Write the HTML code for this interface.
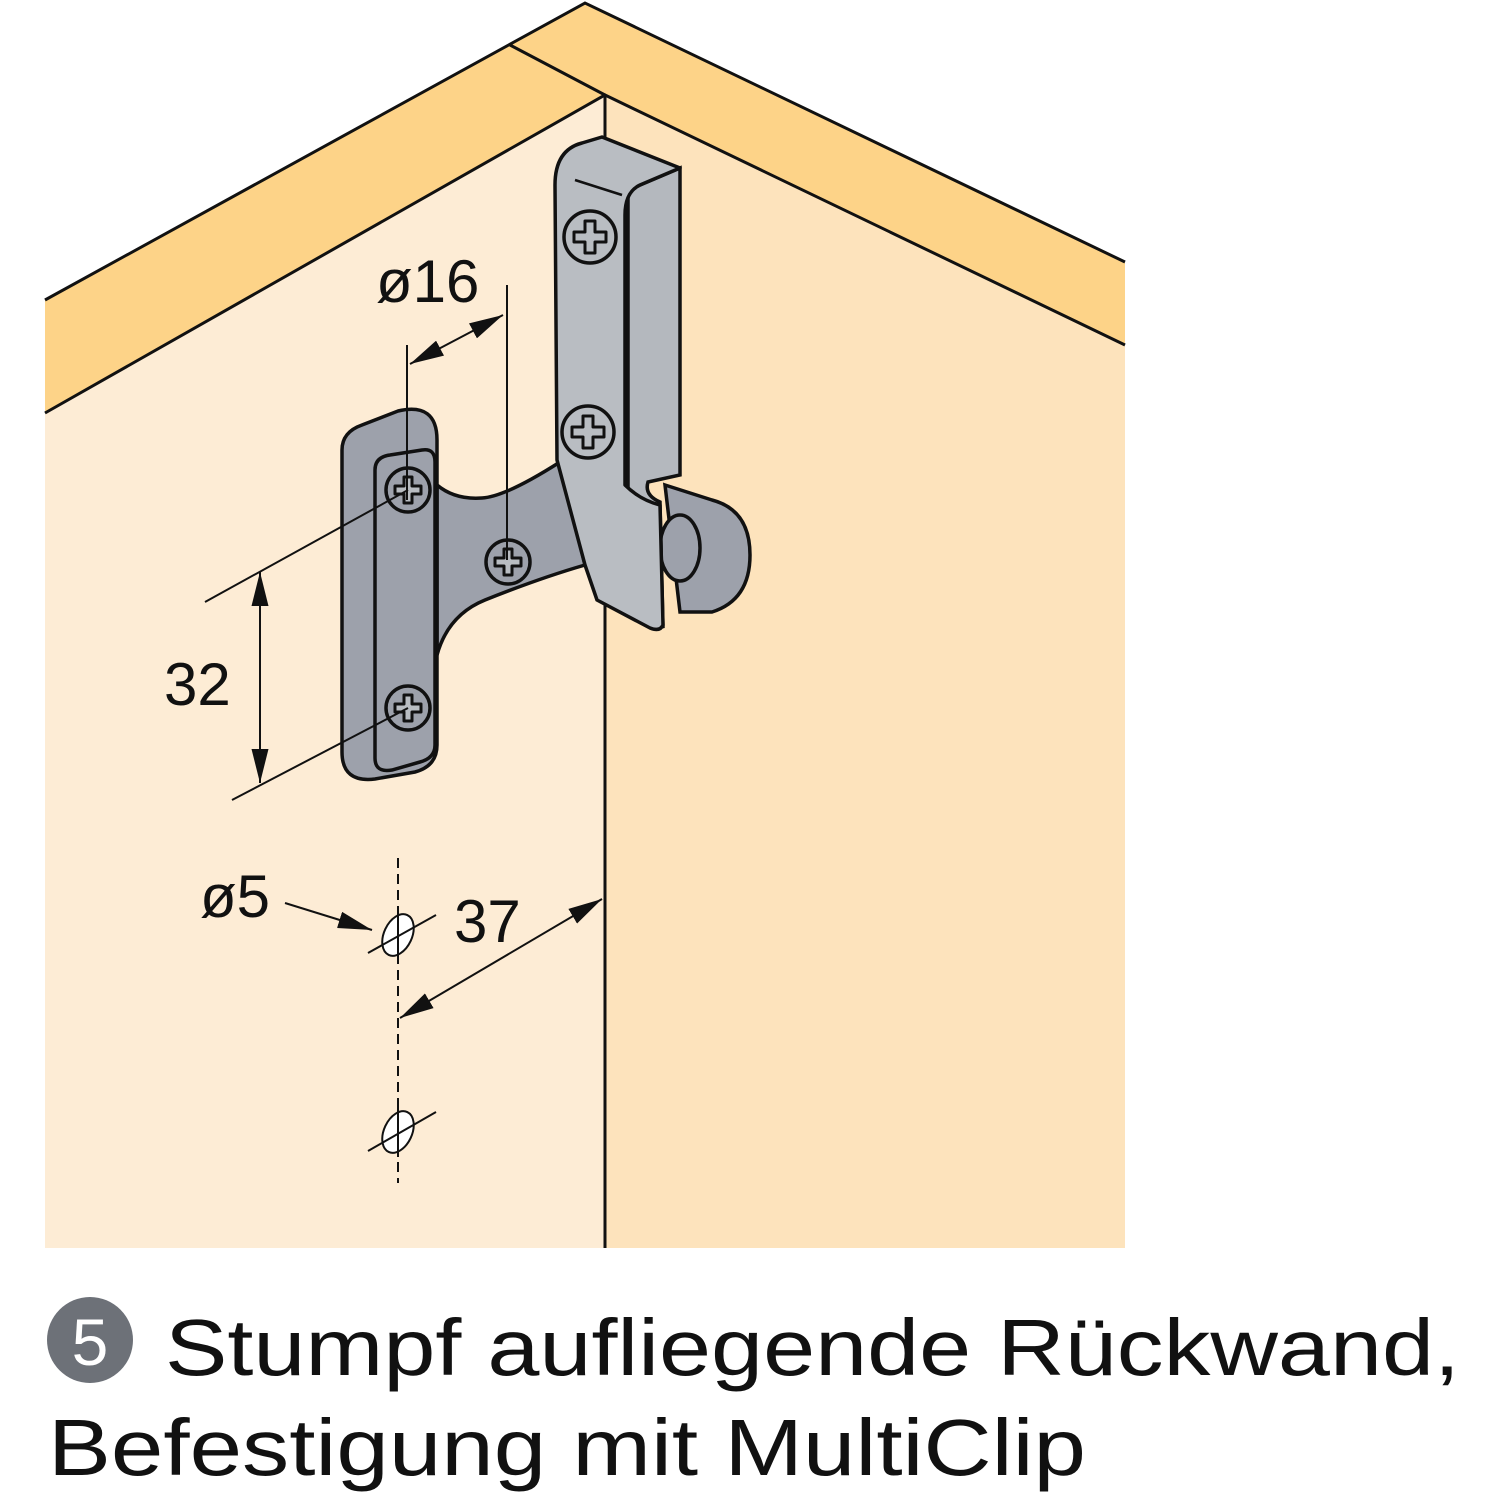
<!DOCTYPE html>
<html><head><meta charset="utf-8"><style>html,body{margin:0;padding:0;background:#fff}svg{display:block}</style></head>
<body>
<svg width="1500" height="1500" viewBox="0 0 1500 1500" xmlns="http://www.w3.org/2000/svg" font-family="Liberation Sans, Arial, sans-serif">
<defs>
<marker id="ab" viewBox="0 0 24 12" refX="24" refY="6" markerWidth="34" markerHeight="17" markerUnits="userSpaceOnUse" orient="auto-start-reverse"><path d="M0,0 L24,6 L0,12 Z" fill="#111"/></marker>
<g id="scr"><circle r="22" fill="#9da1ab" stroke="#111" stroke-width="3.5"/><path d="M-4,-13 H4 V-4 H13 V4 H4 V13 H-4 V4 H-13 V-4 H-4 Z" fill="#b9bdc2" stroke="#111" stroke-width="3" stroke-linejoin="round"/></g>
<g id="scrL"><circle r="26" fill="#b9bdc2" stroke="#111" stroke-width="3.5"/><path d="M-5,-16 H5 V-5 H16 V5 H5 V16 H-5 V5 H-16 V-5 H-5 Z" fill="#b9bdc2" stroke="#111" stroke-width="3" stroke-linejoin="round"/></g>
</defs>
<polygon points="45,413 605,95 605,1248 45,1248" fill="#fdecd5"/>
<polygon points="605,95 1125,345 1125,1248 605,1248" fill="#fde3bc"/>
<polygon points="45,300 510,45 605,95 45,413" fill="#fdd388"/>
<polygon points="510,45 585,3 1125,262 1125,345 605,95" fill="#fdd388"/>
<g stroke="#111" stroke-width="3" fill="none">
<polyline points="45,300 585,3 1125,262"/>
<polyline points="45,413 605,95 1125,345"/>
<line x1="510" y1="45" x2="605" y2="95"/>
<line x1="605" y1="95" x2="605" y2="1248"/>
</g>
<path d="M665,485 L712,500 Q750,510 750,555 Q750,600 712,612 L680,612 Z" fill="#9da1ab" stroke="#111" stroke-width="3.5"/>
<ellipse cx="680" cy="548" rx="20" ry="33" fill="#9da1ab" stroke="#111" stroke-width="3.5"/>
<path d="M437,485 Q455,500 482,498 Q505,497 560,462 L585,565 Q540,578 485,600 Q448,615 437,655 Z" fill="#9da1ab" stroke="#111" stroke-width="3.5"/>
<path d="M342,450 Q342,432 362,425 L398,411 Q437,402 437,440 L437,745 Q437,766 415,772 L375,779 Q342,783 342,752 Z" fill="#9da1ab" stroke="#111" stroke-width="3.5"/>
<path d="M375,470 Q375,457 390,455 L422,450 Q435,448 435,462 L435,745 Q435,758 420,762 L392,770 Q375,773 375,758 Z" fill="#9da1ab" stroke="#111" stroke-width="3.5"/>
<use href="#scr" x="408" y="490"/>
<use href="#scr" x="408" y="708"/>
<use href="#scr" x="508" y="562"/>
<path d="M628,190 L680,168 L680,475 L648,482 Q644,495 660,502 L663,628 L628,560 Z" fill="#b4b8be" stroke="#111" stroke-width="3.5"/>
<path d="M555,185 Q555,150 582,143 L602,137 L680,168 L640,185 Q625,192 625,215 L625,485 Q640,500 660,505 L663,625 Q660,632 650,628 L597,600 L585,565 L557,460 Z" fill="#b9bdc2" stroke="#111" stroke-width="3.5" stroke-linejoin="round"/>
<line x1="575" y1="180" x2="622" y2="195" stroke="#111" stroke-width="2.5"/>
<use href="#scrL" x="590" y="237"/>
<use href="#scrL" x="588" y="432"/>
<g stroke="#111" stroke-width="2" fill="none">
<line x1="407" y1="345" x2="407" y2="500"/>
<line x1="507" y1="285" x2="507" y2="560"/>
<line x1="410" y1="364" x2="503" y2="315" marker-start="url(#ab)" marker-end="url(#ab)"/>
<line x1="205" y1="602" x2="408" y2="490"/>
<line x1="232" y1="800" x2="408" y2="708"/>
<line x1="260" y1="572" x2="260" y2="783" marker-start="url(#ab)" marker-end="url(#ab)"/>
<line x1="398" y1="858" x2="398" y2="1183" stroke-dasharray="10,6"/>
<line x1="285" y1="903" x2="372" y2="930" marker-end="url(#ab)"/>
<line x1="400" y1="1018" x2="602" y2="899" marker-start="url(#ab)" marker-end="url(#ab)"/>
<ellipse cx="398" cy="935" rx="14" ry="22" transform="rotate(25 398 935)" fill="#fff" stroke-width="2"/>
<ellipse cx="398" cy="1132" rx="14" ry="22" transform="rotate(25 398 1132)" fill="#fff" stroke-width="2"/>
<line x1="368" y1="953" x2="436" y2="915"/>
<line x1="368" y1="1151" x2="436" y2="1112"/>
<line x1="398" y1="910" x2="398" y2="960"/>
<line x1="398" y1="1107" x2="398" y2="1157"/>
</g>
<g font-size="60" fill="#111">
<text x="376" y="302">ø16</text>
<text x="164" y="705">32</text>
<text x="200" y="917">ø5</text>
<text x="454" y="942">37</text>
</g>
<circle cx="90" cy="1340" r="43" fill="#6d7178"/>
<text x="90" y="1365" font-size="66" fill="#fff" text-anchor="middle">5</text>
<text x="165" y="1375" font-size="80" fill="#111" textLength="1295" lengthAdjust="spacingAndGlyphs">Stumpf aufliegende Rückwand,</text>
<text x="48" y="1475" font-size="80" fill="#111" textLength="1038" lengthAdjust="spacingAndGlyphs">Befestigung mit MultiClip</text>
</svg>
</body></html>
